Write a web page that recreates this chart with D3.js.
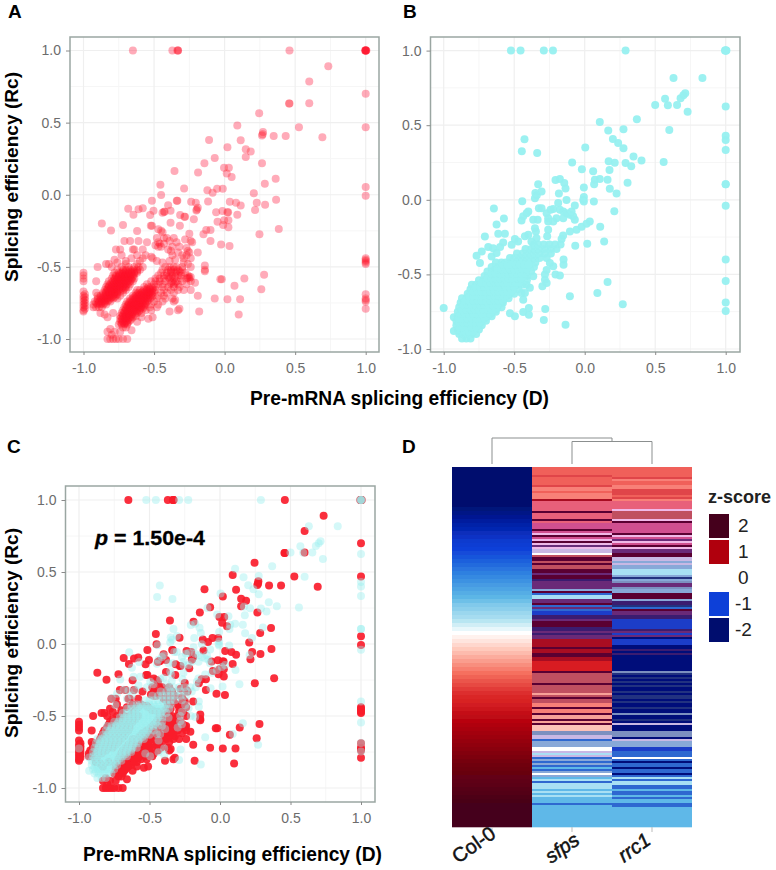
<!DOCTYPE html>
<html><head><meta charset="utf-8">
<script src="https://cdn.jsdelivr.net/npm/d3@7"></script>
<style>
html,body{margin:0;padding:0;background:#fff}
text{font-family:"Liberation Sans",Arial,sans-serif}
</style></head><body>
<svg id="fig" width="776" height="870" xmlns="http://www.w3.org/2000/svg"></svg>
<script>
const axisTicks = [-1, -0.5, 0, 0.5, 1];
const minorTicks = [-0.75, -0.25, 0.25, 0.75];
const xTitle = "Pre-mRNA splicing efficiency (D)";
const yTitle = "Splicing efficiency (Rc)";

// Panel A series: scattered points as [D, Rc]
const redSparse = [[-.65,1],[-.37,1],[-.335,1],[-.33,1],[-.33,1],[.46,1],[1,1],[1,1],[1,1],[1,1],[1,1],[.995,1],[1.005,1],
[.735,.89],[.6,.785],[1,.7],[.6,.635],[.457,.632],[.46,.632],[.245,.565],[.09,.48],[.527,.468],[1,.468],[.272,.435],[.265,.41],[.27,.42],[.348,.407],[.433,.407],[.693,.398],[-.11,.38],[.114,.377],[.02,.33],[.15,.315],[.185,.3],[.15,.262],[-.07,.255],[-.143,.218],[.265,.218],[-.004,.188],[.03,.188],[.015,.148],[.05,.123],[-.188,.155],[-.355,.164],[.362,.111],[.285,.076],[-.455,.07],[-.287,.044],[-.122,.032],[-.053,.042],[-.013,.042],[-.085,.014],[.207,.01],[1,.053],[1,-.007],[-.45,-.002],[-.515,-.042],[-.339,-.042],[-.335,-.042],[-.237,-.049],[-.204,-.056],[-.117,-.046],[.037,-.049],[.081,-.056],[.114,-.074],[.228,-.056],[.287,-.069],[.365,-.035],[-.4,-.072],[-.683,-.097],[-.61,-.1],[-.58,-.093],[-.504,-.111],[-.646,-.139],[-.528,-.141],[-.43,-.118],[-.425,-.118],[-.44,-.125],[-.383,-.111],[-.315,-.141],[-.285,-.153],[-.28,-.153],[-.197,-.102],[-.19,-.09],[-.2,-.11],[-.218,-.169],[-.06,-.122],[-.015,-.113],[.02,-.122],[.025,-.122],[.09,-.139],[.216,-.106],[-.05,-.188],[-.003,-.176],[.027,-.176],[-.01,-.21],[.027,-.225],[-.87,-.2],[-.72,-.21],[-.805,-.248],[-.62,-.252],[-.523,-.215],[-.515,-.215],[-.383,-.194],[-.317,-.215],[.384,-.238],[.247,-.273],[-.15,-.273],[-.13,-.245],[-.1,-.245],[-.1,-.32],[-.025,-.345],[.035,-.355],
[-.83,-.95],[-.81,-.93],[-.8,-.97],[-.83,-1],[-.81,-1],[-.79,-1],[-.77,-1],[-.75,-1],[-.72,-1],[-.69,-1],[-.78,-.95],[-.74,-.95],[-.66,-.94],[-.62,-.88],[-.59,-.85],[-.54,-.86],[-.51,-.85],[-.39,-.81],[-.33,-.8],[-.32,-.79],[-.35,-.73],[-.19,-.7],[-.18,-.81],[-.07,-.72],[.02,-.725],[.11,-.725],[.1,-.83],[.07,-.63],[.14,-.58],[-.03,-.585],[-.02,-.585],[.26,-.655],[.28,-.555],[-.26,-.575],[-.24,-.57],[-.24,-.66],[-.21,-.61],[-.25,-.57],[-.14,-.49],[-.14,-.52],[-.14,-.53],[-.19,-.4],
[-.9,-.5],[-.91,-.6],[-.9,-.7],[-.88,-.82],[-.85,-.83],[-.83,-.85],[-.79,-.82],
[-.77,-.38],[-.74,-.38],[-.78,-.45],[-.73,-.42],[-.71,-.32],[-.67,-.32],[-.65,-.38],[-.64,-.38],[-.61,-.32],[-.62,-.42],[-.58,-.38],[-.58,-.44],[-.56,-.42],[-.52,-.43],[-.51,-.44],[-.49,-.35],[-.47,-.33],[-.47,-.36],[-.46,-.34],[-.48,-.3],[-.45,-.25],[-.47,-.24],[-.44,-.26],[-.41,-.3],[-.39,-.32],[-.37,-.36],[-.4,-.38],[-.37,-.42],[-.33,-.4],[-.3,-.42],[-.27,-.37],[-.26,-.39],[-.25,-.4],[-.27,-.42],[-.24,-.44],[-.29,-.44],[-.28,-.31],[-.25,-.27],[-.24,-.32],[-.23,-.33],[-.35,-.45],[-.39,-.46],[-.44,-.47],[-.48,-.46],
[-.43,-.34],[-.45,-.36],[-.43,-.3],[-.36,-.3],[-.34,-.33],[-.38,-.39],[-.32,-.36],[-.29,-.47],[-.26,-.48],[-.24,-.5],[-.55,-.33],[-.6,-.46],[-.66,-.44],[-.7,-.46],[-.76,-.47],
[1,-.45],[1,-.46],[1,-.47],[1,-.44],[1,-.48],[1,-.69],[1,-.72],[1,-.73],[1,-.74],[1,-.79],
[-1,-.54],[-1,-.56],[-1,-.58],[-1,-.6],[-1,-.67],[-.99,-.69],[-1,-.7],[-.99,-.71],[-1,-.72],[-.99,-.73],[-1,-.74],[-.99,-.75],[-1,-.76],[-.99,-.77],[-1,-.78],[-.99,-.79],[-1,-.8],[-1,-.81]];

// Panel A series: dense clusters, one entry per Rc level with the D values on it
const redDense = [
[-.5,[-.8,-.73,-.68,-.64,-.61,-.58,-.42,-.39,-.36,-.34,-.3]],
[-.52,[-.76,-.72,-.7,-.67,-.65,-.62,-.6,-.44,-.4,-.38,-.36,-.33,-.3]],
[-.54,[-.78,-.75,-.73,-.71,-.68,-.66,-.64,-.62,-.45,-.41,-.38,-.35,-.31,-.28]],
[-.56,[-.79,-.77,-.75,-.73,-.71,-.69,-.67,-.65,-.47,-.43,-.41,-.37,-.33,-.31,-.26]],
[-.58,[-.8,-.78,-.76,-.74,-.72,-.7,-.68,-.66,-.64,-.49,-.46,-.43,-.39,-.36,-.31,-.27,-.25]],
[-.6,[-.82,-.79,-.77,-.75,-.73,-.71,-.69,-.67,-.65,-.52,-.49,-.46,-.42,-.37,-.34,-.3,-.24]],
[-.62,[-.83,-.81,-.79,-.77,-.75,-.73,-.71,-.69,-.67,-.55,-.5,-.47,-.44,-.39,-.36,-.33,-.27]],
[-.64,[-.84,-.82,-.8,-.78,-.76,-.74,-.72,-.7,-.68,-.57,-.54,-.52,-.49,-.44,-.4,-.36,-.32]],
[-.66,[-.85,-.83,-.81,-.79,-.77,-.75,-.72,-.7,-.62,-.6,-.57,-.55,-.53,-.51,-.49,-.43,-.38,-.33,-.29]],
[-.68,[-.91,-.86,-.84,-.82,-.8,-.78,-.76,-.72,-.63,-.61,-.59,-.57,-.55,-.53,-.51,-.45,-.41,-.36]],
[-.7,[-.88,-.85,-.83,-.81,-.79,-.77,-.74,-.65,-.63,-.61,-.59,-.57,-.55,-.53,-.51,-.47,-.43]],
[-.72,[-.9,-.87,-.85,-.83,-.81,-.79,-.76,-.67,-.65,-.63,-.61,-.59,-.57,-.55,-.53,-.48,-.42,-.37]],
[-.74,[-.92,-.89,-.87,-.85,-.83,-.81,-.69,-.67,-.65,-.63,-.61,-.59,-.57,-.55,-.5,-.44,-.36]],
[-.76,[-.93,-.9,-.88,-.86,-.84,-.7,-.68,-.66,-.64,-.62,-.6,-.58,-.56,-.52,-.47]],
[-.78,[-.93,-.91,-.89,-.87,-.71,-.69,-.67,-.65,-.63,-.61,-.59,-.57,-.53,-.48]],
[-.8,[-.72,-.7,-.68,-.66,-.64,-.62,-.6,-.56,-.52]],
[-.82,[-.73,-.71,-.69,-.67,-.65,-.62,-.59]],
[-.84,[-.74,-.72,-.7,-.68,-.66,-.63]],
[-.86,[-.74,-.72,-.7,-.68,-.66]],
[-.88,[-.74,-.72,-.7,-.68]],
[-.9,[-.75,-.73,-.71,-.69]],
[-.92,[-.72,-.7]],
[-.48,[-.84,-.82,-.7,-.62]],
[-.73,[-.9,-.88,-.86,-.84,-.82]],
[-.71,[-.88,-.86,-.84,-.82,-.8,-.78]],
[-.69,[-.86,-.84,-.82,-.8,-.78,-.76]],
[-.67,[-.84,-.82,-.8,-.78,-.76,-.74]],
[-.65,[-.83,-.81,-.79,-.77,-.75,-.73,-.71]],
[-.63,[-.82,-.8,-.78,-.76,-.74,-.72,-.7]],
[-.61,[-.8,-.78,-.76,-.74,-.72,-.7,-.68,-.38,-.35]],
[-.59,[-.78,-.76,-.74,-.72,-.7,-.68,-.66]],
[-.57,[-.77,-.75,-.73,-.71,-.69,-.67,-.65,-.4,-.38,-.35]],
[-.55,[-.74,-.72,-.7,-.68,-.66,-.64]],
[-.53,[-.72,-.7,-.68,-.66,-.64,-.62,-.38,-.34,-.32]],
[-.75,[-.91,-.89,-.87,-.85]],
[-.89,[-.73,-.71,-.69]],
[-.87,[-.73,-.71,-.69,-.67]],
[-.85,[-.73,-.71,-.69,-.67,-.65]],
[-.83,[-.72,-.7,-.68,-.66,-.64]],
[-.81,[-.71,-.69,-.67,-.65,-.63,-.61]],
[-.79,[-.7,-.68,-.66,-.64,-.62,-.6,-.58]],
[-.77,[-.69,-.67,-.65,-.63,-.61,-.59,-.57]],
[-.75,[-.68,-.66,-.64,-.62,-.6,-.58,-.56]],
[-.73,[-.66,-.64,-.62,-.6,-.58,-.56,-.54]],
[-.71,[-.64,-.62,-.6,-.58,-.56,-.54,-.52]],
[-.69,[-.62,-.6,-.58,-.56,-.54,-.52]],
[-.67,[-.58,-.56,-.54,-.52,-.5]],
[-.65,[-.55,-.53,-.51]]];

// Panel B series
const cyanSparse = [[-.523,1],[-.455,1],[-.29,1],[-.225,1],[.29,1],[1,1],[1,1],[.995,1],[1.005,1],
[.63,.817],[.835,.817],[.713,.714],[.7,.7],[.68,.68],[.57,.678],[.5,.636],[.59,.634],[.655,.636],[.73,.59],[1,.625],[.37,.54],[.107,.522],[.167,.464],[.275,.473],[.6,.467],[-.427,.406],[1,.43],[1,.4],[1,.333],[.2,.408],[.237,.38],[.275,.346],[.004,.35],[-.446,.326],[-.337,.313],[.346,.29],[.17,.259],[.213,.248],[.29,.246],[.33,.225],[.403,.263],[.56,.254],[-.089,.25],[-.02,.205],[.06,.192],[.176,.2],[.072,.134],[.107,.14],[.162,.134],[.304,.114],[.067,.105],[1,.105],[1,.105],[-.207,.132],[-.176,.14],[-.145,.112],[-.136,.076],[-.33,.105],[-.35,.045],[-.34,.03],[-.306,.056],[-.353,.011],[-.183,.042],[-.006,.083],[.178,.074],[.226,.042],[-.006,.018],[-.01,0],[-.006,-.011],[.065,-.011],[-.129,-.002],[-.188,-.022],[-.443,-.009],[1,-.04],[.21,-.076],[-.07,-.038],[-.325,-.056],[-.306,-.056],[-.644,-.058],[-.242,-.067],[-.223,-.062],[-.176,-.067],[-.152,-.078],[-.129,-.09],[-.105,-.1],[-.082,-.11],[-.27,-.09],[-.259,-.123],[-.259,-.145],[-.223,-.145],[-.152,-.123],[-.2,-.123],[-.093,-.078],[-.07,-.134],[.036,-.145],[.013,-.16],[-.022,-.18],[-.058,-.2],[-.105,-.212],[.11,-.18],[.138,-.28],[.018,-.295],[-.067,-.308],[-.153,-.24],[-.164,-.263],[-.171,-.3],[-.259,-.2],[-.266,-.245],[-.436,-.11],[-.412,-.09],[-.4,-.078],[-.448,-.138],[-.365,-.134],[-.334,-.134],[-.353,-.19],[-.346,-.212],[-.573,-.125],[-.625,-.165],[-.613,-.228],[-.566,-.228],[-.708,-.246],[-.578,-.286],[-.6,-.317],[-.649,-.324],[-.684,-.317],[-.73,-.346],[-.767,-.375],[-.743,-.424],[-.625,-.357],[-.66,-.38],[-.518,-.301],[-.495,-.263],[-.472,-.279],[-.424,-.245],[-.4,-.234],[-.342,-.257],[-.378,-.279],[-.15,-.4],[-.15,-.435],[-.207,-.5],[-.176,-.507],[-.223,-.446],[-.247,-.424],[-.27,-.47],[-.282,-.5],[-.282,-.536],[-.27,-.558],[-.3,-.58],[.162,-.551],[.09,-.625],[-.105,-.647],[.27,-.7],[1,-.4],[1,-.545],[1,-.688],[1,-.746],[-.136,-.837],[-.29,-.806],[-.28,-.732],[-.396,-.77],[-.436,-.752],[-.396,-.725],[-.495,-.78],[-.53,-.76],[-1,-.725],[-.928,-.788],[-.928,-.88],[-.436,-.67],[-.448,-.625],[-.424,-.625],[-.389,-.59],[-.412,-.57],[-.365,-.513]];

const cyanDense = [
[-.93,[-.87,-.84,-.81]],
[-.9,[-.89,-.86,-.83,-.8,-.77]],
[-.87,[-.9,-.87,-.84,-.81,-.78,-.75]],
[-.84,[-.91,-.88,-.85,-.82,-.79,-.76,-.73]],
[-.81,[-.91,-.88,-.85,-.82,-.79,-.76,-.73,-.7]],
[-.78,[-.9,-.87,-.84,-.81,-.78,-.75,-.72,-.69,-.66]],
[-.75,[-.9,-.87,-.84,-.81,-.78,-.75,-.72,-.69,-.66,-.63]],
[-.72,[-.89,-.86,-.83,-.8,-.77,-.74,-.71,-.68,-.65,-.62,-.59]],
[-.69,[-.88,-.85,-.82,-.79,-.76,-.73,-.7,-.67,-.64,-.61,-.58]],
[-.66,[-.87,-.84,-.81,-.78,-.75,-.72,-.69,-.66,-.63,-.6,-.57,-.54]],
[-.63,[-.83,-.8,-.77,-.74,-.71,-.68,-.65,-.62,-.59,-.56,-.53,-.5]],
[-.6,[-.81,-.78,-.75,-.72,-.69,-.66,-.63,-.6,-.57,-.54,-.51,-.47]],
[-.57,[-.8,-.77,-.74,-.71,-.68,-.65,-.62,-.59,-.56,-.53,-.5,-.47,-.44]],
[-.54,[-.75,-.72,-.69,-.66,-.63,-.6,-.57,-.54,-.51,-.48,-.45,-.41]],
[-.51,[-.71,-.68,-.65,-.62,-.59,-.56,-.53,-.5,-.47,-.44,-.41]],
[-.48,[-.69,-.66,-.63,-.6,-.57,-.54,-.51,-.48,-.45,-.42,-.38]],
[-.45,[-.66,-.63,-.6,-.57,-.54,-.51,-.48,-.45,-.42,-.39,-.36]],
[-.42,[-.63,-.59,-.56,-.53,-.5,-.47,-.44,-.41,-.38,-.35]],
[-.39,[-.53,-.5,-.47,-.44,-.41,-.38,-.35,-.32,-.27]],
[-.36,[-.48,-.44,-.41,-.38,-.35,-.32,-.28,-.24]],
[-.33,[-.42,-.38,-.35,-.32,-.28,-.24,-.2]],
[-.3,[-.36,-.33,-.29,-.25,-.21]],
[-.885,[-.88,-.85,-.82,-.79]],
[-.855,[-.89,-.86,-.83,-.8,-.77]],
[-.825,[-.89,-.86,-.83,-.8,-.77,-.74]],
[-.795,[-.89,-.86,-.83,-.8,-.77,-.74,-.71]],
[-.765,[-.88,-.85,-.82,-.79,-.76,-.73,-.7,-.67]],
[-.735,[-.87,-.84,-.81,-.78,-.75,-.72,-.69,-.66,-.63]],
[-.705,[-.86,-.83,-.8,-.77,-.74,-.71,-.68,-.65,-.62]],
[-.675,[-.85,-.82,-.79,-.76,-.73,-.7,-.67,-.64,-.61,-.58]],
[-.645,[-.82,-.79,-.76,-.73,-.7,-.67,-.64,-.61,-.58,-.55]],
[-.615,[-.79,-.76,-.73,-.7,-.67,-.64,-.61,-.58,-.55,-.52]],
[-.585,[-.77,-.74,-.71,-.68,-.65,-.62,-.59,-.56,-.53,-.5]],
[-.555,[-.73,-.7,-.67,-.64,-.61,-.58,-.55,-.52,-.49,-.46]],
[-.525,[-.69,-.66,-.63,-.6,-.57,-.54,-.51,-.48,-.45]],
[-.495,[-.66,-.63,-.6,-.57,-.54,-.51,-.48,-.45,-.42]],
[-.465,[-.62,-.59,-.56,-.53,-.5,-.47,-.44,-.41]],
[-.435,[-.58,-.55,-.52,-.49,-.46,-.43,-.4]]];

// Panel D
const heatColumns = ["Col-0", "sfps", "rrc1"];
const col0Z = [-2,-2,-2,-2,-2,-2,-2,-2,-2,-2,-1.9,-1.8,-1.7,-1.6,-1.5,-1.4,-1.3,-1.2,-1.1,-1.05,-1,-.95,-.9,-.85,-.8,-.75,-.7,-.65,-.6,-.55,-.5,-.45,-.4,-.35,-.3,-.27,-.23,-.2,-.15,-.1,-.05,0,.05,.1,.15,.2,.25,.3,.35,.4,.45,.5,.55,.6,.65,.7,.75,.78,.8,.83,.86,.9,.93,.96,1,1.05,1.1,1.15,1.2,1.25,1.3,1.35,1.4,1.45,1.5,1.55,1.6,1.65,1.7,1.75,1.8,1.85,1.9,1.95,2,2,2,2,2,2];
const sfpsLevels = ("SSSSRSSSSRLLSLLLEKKKKKDKKKDKMMMDMPDMPDPUPXXWODDODOODDUDDIUUUU"
  + "HDCTTUUDCUCBBIIUDDDIIUIUUEEEEDEEDDEEFFFFFDOOOOODOOOOQODOOL"
  + "LDLLDQQDQDVVVGGXXCHHHWWXTXCHCHCACHWHATCTTTATATAAACAAAAAAAAAAA").split("");
const rrc1Levels = ("SSSSSRLSSLLRRRSRLKKKKPOOOOPDMMMMMDPMUPMDPUUDDXXHXHHTTTHYHGUUG"
  + "HHDDDHIIYCDUUIIBBBBBIUBUNBBBNNININNNNNNNNGYNYNYNYNNYNYYNYN"
  + "NYNNGNNYNXNNNGGGNXHHHBBCCCWCNCCNCCNCTCTTCCACCACAACCAAAAAAAAAA").split("");
const levelKeys = "SRLKMPWDUINBCATGHEFQVOYX".split("");
const levelHex = ["#f0605a","#e04548","#f88078","#e8607a","#d04f90","#f0b8e8","#ffffff","#5a0030","#6a2a78","#3a1a70","#00107a","#1a3cc8","#2f68d0","#5fb8e8","#a8e0f4","#7c90c0","#88a8d8","#a80820","#d81c20","#f8a098","#fbc0b8","#c05060","#223080","#c8b8e4"];
const zStops = [-2,-1.6,-1,-.7,-.4,-.15,0,.2,.5,.8,1,1.5,2];
const zHex = ["#00106e","#001a9e","#0d40d8","#2f80e0","#5cb6e6","#b8e6f2","#ffffff","#ffcabc","#f5705f","#d82024","#b00008","#70000f","#45001a"];
const legendZ = [2, 1, 0, -1, -2];

const svg = d3.select("#fig");
const defs = svg.append("defs");
defs.append("filter").attr("id","soft").attr("x","-5%").attr("y","-5%").attr("width","110%").attr("height","110%")
  .append("feGaussianBlur").attr("stdDeviation",0.55);
defs.append("filter").attr("id","softer").attr("x","-5%").attr("y","-5%").attr("width","110%").attr("height","110%")
  .append("feGaussianBlur").attr("stdDeviation",0.4);

const expand = (sparse, dense) => sparse.concat(dense.flatMap(([y, xs]) => xs.map(x => [x, y])));
const redPoints = expand(redSparse, redDense);
const cyanPoints = expand(cyanSparse, cyanDense);
const fmt = v => d3.format(".1f")(v).replace("\u2212", "-");

function scatterPanel(p) {
  const g = svg.append("g");
  const x = d3.scaleLinear().domain([-1, 1]).range([p.x0, p.x1]);
  const y = d3.scaleLinear().domain([-1, 1]).range([p.y0, p.y1]);
  const grid = g.append("g");
  const gridLine = (vals, col, w) => {
    grid.selectAll(null).data(vals).join("line").attr("x1", d => x(d)).attr("x2", d => x(d))
      .attr("y1", p.top).attr("y2", p.bottom).attr("stroke", col).attr("stroke-width", w);
    grid.selectAll(null).data(vals).join("line").attr("y1", d => y(d)).attr("y2", d => y(d))
      .attr("x1", p.left).attr("x2", p.right).attr("stroke", col).attr("stroke-width", w);
  };
  gridLine(minorTicks, "#f6f6f6", 1);
  gridLine(axisTicks, "#efefef", 1.2);

  const marks = g.append("g").attr("filter", "url(#soft)");
  p.layers.forEach(l => {
    marks.append("g").selectAll("circle").data(l.data).join("circle")
      .attr("cx", d => x(d[0])).attr("cy", d => y(d[1])).attr("r", 4)
      .attr("fill", l.color).attr("fill-opacity", l.alpha);
  });

  g.append("rect").attr("x", p.left).attr("y", p.top).attr("width", p.right - p.left).attr("height", p.bottom - p.top)
    .attr("fill", "none").attr("stroke", "#9aa6a2").attr("stroke-width", 1.5);

  const ax = g.append("g").attr("transform", `translate(0,${p.bottom})`)
    .call(d3.axisBottom(x).tickValues(axisTicks).tickFormat(fmt).tickSize(3).tickPadding(8));
  const ay = g.append("g").attr("transform", `translate(${p.left},0)`)
    .call(d3.axisLeft(y).tickValues(axisTicks).tickFormat(fmt).tickSize(4).tickPadding(5));
  [ax, ay].forEach(a => {
    a.select(".domain").remove();
    a.selectAll(".tick line").attr("stroke", "#8a8a8a");
    a.selectAll("text").attr("fill", "#6c6c6c").style("font-size", "14px").style("font-family", '"Liberation Sans"');
  });

  if (p.yTitleY) {
    g.append("text").attr("transform", `translate(${p.yTitleX},${p.yTitleY}) rotate(-90)`)
      .attr("text-anchor", "middle").attr("font-weight", "bold").attr("font-size", 19).attr("textLength", 210)
      .attr("lengthAdjust", "spacingAndGlyphs").attr("fill", "#000").text(yTitle);
  }
}

const redA = "#ff1028", cyanB = "#97f0f0";
scatterPanel({left:70,right:379,top:37,bottom:352,x0:83.5,x1:365.7,y0:339,y1:50.5,yTitleX:18,yTitleY:177,
  layers:[{data:redPoints,color:redA,alpha:.33}]});
scatterPanel({left:430.5,right:740,top:37,bottom:352,x0:443.7,x1:725.7,y0:349,y1:50.6,
  layers:[{data:cyanPoints,color:cyanB,alpha:.95}]});
scatterPanel({left:65.5,right:375,top:486,bottom:802,x0:79,x1:361,y0:788,y1:500,yTitleX:18,yTitleY:633,
  layers:[{data:redPoints,color:"#fa1c2c",alpha:.92},{data:cyanPoints,color:"#98eeee",alpha:.42}]});

const xt = (cx, by) => svg.append("text").attr("x", cx).attr("y", by).attr("text-anchor", "middle")
  .attr("font-weight", "bold").attr("font-size", 20).attr("textLength", 299).attr("lengthAdjust", "spacingAndGlyphs").text(xTitle);
xt(399.5, 405);
xt(232.5, 861);

[["A",8,18],["B",403,18],["C",7,453],["D",402,453]].forEach(([t, px, py]) => {
  svg.append("text").attr("x", px).attr("y", py).attr("font-weight", "bold").attr("font-size", 19).text(t);
});

const pLabel = svg.append("text").attr("x", 95).attr("y", 545).attr("font-weight", "bold").attr("font-size", 21)
  .attr("textLength", 110).attr("lengthAdjust", "spacingAndGlyphs").attr("stroke", "#000").attr("stroke-width", 0.3);
pLabel.append("tspan").attr("font-style", "italic").text("p");
pLabel.append("tspan").text(" = 1.50e-4");

// Heatmap
const zColor = d3.scaleLinear().domain(zStops).range(zHex).clamp(true);
const levelColor = d3.scaleOrdinal().domain(levelKeys).range(levelHex);
const heatX = d3.scaleBand().domain(heatColumns).range([452, 692]);
const heat = svg.append("g").attr("filter", "url(#softer)");
const colRows = (name, values, colorFn) => {
  const y = d3.scaleBand().domain(d3.range(values.length)).range([467, 827]);
  heat.append("g").selectAll("rect").data(values).join("rect")
    .attr("x", heatX(name)).attr("width", heatX.bandwidth())
    .attr("y", (d, i) => y(i)).attr("height", y.bandwidth() + 0.3)
    .attr("fill", colorFn);
};
colRows("Col-0", col0Z, zColor);
colRows("sfps", sfpsLevels, levelColor);
colRows("rrc1", rrc1Levels, levelColor);

// Dendrogram
const cx = n => heatX(n) + heatX.bandwidth() / 2;
const dendroY = d3.scaleLinear().domain([0, 1]).range([464, 438]);
const joinH = 0.865, rootH = 1;
const joinMid = (cx("sfps") + cx("rrc1")) / 2;
const line = d3.line();
const dendro = svg.append("g").attr("fill", "none").attr("stroke", "#8b8f8f").attr("stroke-width", 1);
dendro.append("path").attr("d", line([[cx("sfps"), dendroY(0)],[cx("sfps"), dendroY(joinH)],[cx("rrc1"), dendroY(joinH)],[cx("rrc1"), dendroY(0)]]));
dendro.append("path").attr("d", line([[cx("Col-0"), dendroY(0)],[cx("Col-0"), dendroY(rootH)],[joinMid, dendroY(rootH)],[joinMid, dendroY(joinH)]]));

// Column labels
const labelPos = {"Col-0":[458,864],"sfps":[551,864],"rrc1":[624,863]};
heatColumns.forEach(n => {
  svg.append("line").attr("x1", cx(n)).attr("x2", cx(n)).attr("y1", 827).attr("y2", 832).attr("stroke", "#bbb");
  svg.append("text").attr("transform", `translate(${labelPos[n][0]},${labelPos[n][1]}) rotate(-35)`)
    .attr("font-size", 20).attr("font-style", n === "Col-0" ? "normal" : "italic").attr("fill", "#111")
    .attr("stroke", "#111").attr("stroke-width", 0.5).text(n);
});

// Legend
svg.append("text").attr("x", 708).attr("y", 503).attr("font-weight", "bold").attr("font-size", 18).attr("fill", "#222").text("z-score");
const legendTop = d3.scaleBand().domain(legendZ).range([513, 643]);
const legend = svg.append("g");
legend.append("g").attr("filter", "url(#soft)").selectAll("rect").data(legendZ).join("rect")
  .attr("x", 709).attr("width", 20)
  .attr("y", d => legendTop(d) + 1).attr("height", legendTop.bandwidth() - 2)
  .attr("fill", d => zColor(d));
legend.selectAll("text").data(legendZ).join("text")
  .attr("x", d => d < 0 ? 735 : 738).attr("y", d => legendTop(d) + legendTop.bandwidth() / 2 + 6)
  .attr("font-size", 19).attr("fill", "#222").text(d => d);
</script>
</body></html>
